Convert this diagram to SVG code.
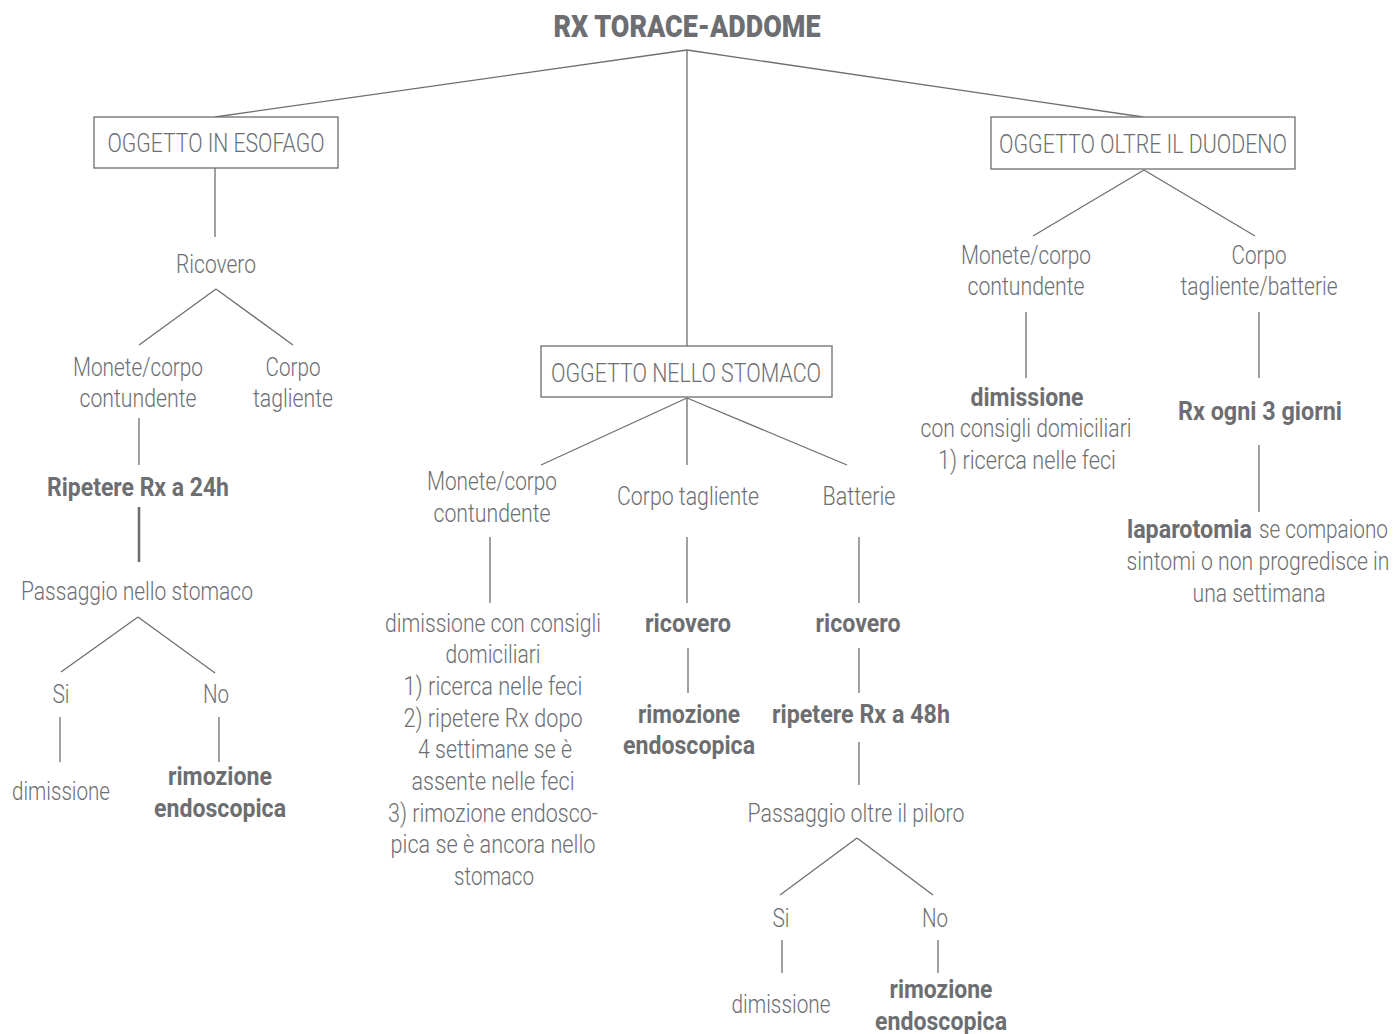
<svg xmlns="http://www.w3.org/2000/svg" width="1395" height="1034" viewBox="0 0 1395 1034">
<style>
text{font-family:Roboto,"Liberation Sans",sans-serif;font-size:25px;font-weight:300;fill:#6d6e71;text-anchor:middle}
.b{font-weight:700}
.t{font-size:32px;font-weight:900}
.s{text-anchor:start}
.box{fill:#fff;stroke:#6d6e71;stroke-width:1.3}
#connectors line{stroke:#6d6e71;stroke-width:1.3;fill:none}
#connectors line.thick{stroke-width:2.6}
</style>
<rect width="1395" height="1034" fill="#fff"/>
<g id="connectors">
<line x1="687" y1="50" x2="215" y2="117"/>
<line x1="687" y1="50" x2="1143" y2="117"/>
<line x1="687" y1="50" x2="687" y2="346"/>
<line x1="215" y1="168" x2="215" y2="237"/>
<line x1="216" y1="289" x2="139" y2="345"/>
<line x1="216" y1="289" x2="293" y2="345"/>
<line x1="139" y1="418" x2="139" y2="465"/>
<line class="thick" x1="139" y1="507" x2="139" y2="562"/>
<line x1="138" y1="617" x2="61" y2="672"/>
<line x1="138" y1="617" x2="215" y2="673"/>
<line x1="60" y1="717" x2="60" y2="762"/>
<line x1="219" y1="717" x2="219" y2="762"/>
<line x1="687" y1="398" x2="541" y2="465"/>
<line x1="687" y1="398" x2="687" y2="465"/>
<line x1="687" y1="398" x2="847" y2="465"/>
<line x1="490" y1="537" x2="490" y2="603"/>
<line x1="687" y1="537" x2="687" y2="603"/>
<line x1="859" y1="537" x2="859" y2="603"/>
<line x1="688" y1="648" x2="688" y2="693"/>
<line x1="859" y1="648" x2="859" y2="693"/>
<line x1="859" y1="742" x2="859" y2="785"/>
<line x1="857" y1="838" x2="780" y2="895"/>
<line x1="857" y1="838" x2="933" y2="895"/>
<line x1="782" y1="940" x2="782" y2="973"/>
<line x1="938" y1="940" x2="938" y2="973"/>
<line x1="1144" y1="170" x2="1033" y2="236"/>
<line x1="1144" y1="170" x2="1255" y2="236"/>
<line x1="1026" y1="312" x2="1026" y2="378"/>
<line x1="1259" y1="312" x2="1259" y2="378"/>
<line x1="1259" y1="445" x2="1259" y2="512"/>
</g>
<g id="title"><text class="t" x="687" y="37" textLength="267" lengthAdjust="spacingAndGlyphs">RX TORACE-ADDOME</text></g>
<g id="esofago"><rect class="box" x="94" y="117" width="244" height="51"/><text x="216" y="152" textLength="217" lengthAdjust="spacingAndGlyphs">OGGETTO IN ESOFAGO</text></g>
<g id="esofago-ricovero"><text x="216" y="273" textLength="80" lengthAdjust="spacingAndGlyphs">Ricovero</text></g>
<g id="esofago-monete"><text x="138" y="376" textLength="130" lengthAdjust="spacingAndGlyphs">Monete/corpo</text><text x="138" y="407" textLength="117" lengthAdjust="spacingAndGlyphs">contundente</text></g>
<g id="esofago-tagliente"><text x="293" y="376" textLength="55" lengthAdjust="spacingAndGlyphs">Corpo</text><text x="293" y="407" textLength="80" lengthAdjust="spacingAndGlyphs">tagliente</text></g>
<g id="esofago-rx24"><text class="b" x="138" y="496" textLength="182" lengthAdjust="spacingAndGlyphs">Ripetere Rx a 24h</text></g>
<g id="esofago-passaggio"><text x="137" y="600" textLength="232" lengthAdjust="spacingAndGlyphs">Passaggio nello stomaco</text></g>
<g id="esofago-si"><text x="61" y="703" textLength="17" lengthAdjust="spacingAndGlyphs">Si</text></g>
<g id="esofago-no"><text x="216" y="703" textLength="26" lengthAdjust="spacingAndGlyphs">No</text></g>
<g id="esofago-dimissione"><text x="61" y="800" textLength="98" lengthAdjust="spacingAndGlyphs">dimissione</text></g>
<g id="esofago-rimozione"><text class="b" x="220" y="785" textLength="104" lengthAdjust="spacingAndGlyphs">rimozione</text><text class="b" x="220" y="817" textLength="132" lengthAdjust="spacingAndGlyphs">endoscopica</text></g>
<g id="stomaco"><rect class="box" x="541" y="346" width="291" height="51"/><text x="686" y="382" textLength="270" lengthAdjust="spacingAndGlyphs">OGGETTO NELLO STOMACO</text></g>
<g id="stomaco-monete"><text x="492" y="490" textLength="130" lengthAdjust="spacingAndGlyphs">Monete/corpo</text><text x="492" y="522" textLength="117" lengthAdjust="spacingAndGlyphs">contundente</text></g>
<g id="stomaco-tagliente"><text x="688" y="505" textLength="142" lengthAdjust="spacingAndGlyphs">Corpo tagliente</text></g>
<g id="stomaco-batterie"><text x="859" y="505" textLength="73" lengthAdjust="spacingAndGlyphs">Batterie</text></g>
<g id="stomaco-dimissione">
<text x="493" y="632" textLength="216" lengthAdjust="spacingAndGlyphs">dimissione con consigli</text>
<text x="493" y="663" textLength="95" lengthAdjust="spacingAndGlyphs">domiciliari</text>
<text x="493" y="695" textLength="179" lengthAdjust="spacingAndGlyphs">1) ricerca nelle feci</text>
<text x="493" y="727" textLength="179" lengthAdjust="spacingAndGlyphs">2) ripetere Rx dopo</text>
<text x="495" y="758" textLength="154" lengthAdjust="spacingAndGlyphs">4 settimane se è</text>
<text x="493" y="790" textLength="163" lengthAdjust="spacingAndGlyphs">assente nelle feci</text>
<text x="493" y="822" textLength="210" lengthAdjust="spacingAndGlyphs">3) rimozione endosco-</text>
<text x="493" y="853" textLength="205" lengthAdjust="spacingAndGlyphs">pica se è ancora nello</text>
<text x="494" y="885" textLength="80" lengthAdjust="spacingAndGlyphs">stomaco</text>
</g>
<g id="stomaco-tagliente-ricovero"><text class="b" x="688" y="632" textLength="86" lengthAdjust="spacingAndGlyphs">ricovero</text></g>
<g id="stomaco-tagliente-rimozione"><text class="b" x="689" y="723" textLength="102" lengthAdjust="spacingAndGlyphs">rimozione</text><text class="b" x="689" y="754" textLength="132" lengthAdjust="spacingAndGlyphs">endoscopica</text></g>
<g id="stomaco-batterie-ricovero"><text class="b" x="858" y="632" textLength="85" lengthAdjust="spacingAndGlyphs">ricovero</text></g>
<g id="stomaco-rx48"><text class="b" x="861" y="723" textLength="178" lengthAdjust="spacingAndGlyphs">ripetere Rx a 48h</text></g>
<g id="stomaco-passaggio"><text x="856" y="822" textLength="217" lengthAdjust="spacingAndGlyphs">Passaggio oltre il piloro</text></g>
<g id="stomaco-si"><text x="781" y="927" textLength="17" lengthAdjust="spacingAndGlyphs">Si</text></g>
<g id="stomaco-no"><text x="935" y="927" textLength="26" lengthAdjust="spacingAndGlyphs">No</text></g>
<g id="stomaco-dimissione2"><text x="781" y="1013" textLength="99" lengthAdjust="spacingAndGlyphs">dimissione</text></g>
<g id="stomaco-rimozione2"><text class="b" x="941" y="998" textLength="103" lengthAdjust="spacingAndGlyphs">rimozione</text><text class="b" x="941" y="1030" textLength="132" lengthAdjust="spacingAndGlyphs">endoscopica</text></g>
<g id="duodeno"><rect class="box" x="991" y="117" width="304" height="52"/><text x="1143" y="153" textLength="288" lengthAdjust="spacingAndGlyphs">OGGETTO OLTRE IL DUODENO</text></g>
<g id="duodeno-monete"><text x="1026" y="264" textLength="130" lengthAdjust="spacingAndGlyphs">Monete/corpo</text><text x="1026" y="295" textLength="117" lengthAdjust="spacingAndGlyphs">contundente</text></g>
<g id="duodeno-tagliente"><text x="1259" y="264" textLength="55" lengthAdjust="spacingAndGlyphs">Corpo</text><text x="1259" y="295" textLength="157" lengthAdjust="spacingAndGlyphs">tagliente/batterie</text></g>
<g id="duodeno-dimissione"><text class="b" x="1027" y="406" textLength="113" lengthAdjust="spacingAndGlyphs">dimissione</text><text x="1026" y="437" textLength="211" lengthAdjust="spacingAndGlyphs">con consigli domiciliari</text><text x="1027" y="469" textLength="178" lengthAdjust="spacingAndGlyphs">1) ricerca nelle feci</text></g>
<g id="duodeno-rx3"><text class="b" x="1260" y="420" textLength="164" lengthAdjust="spacingAndGlyphs">Rx ogni 3 giorni</text></g>
<g id="duodeno-laparotomia"><text class="b s" x="1127" y="538" textLength="125" lengthAdjust="spacingAndGlyphs">laparotomia</text><text class="s" x="1259" y="538" textLength="129" lengthAdjust="spacingAndGlyphs">se compaiono</text><text x="1258" y="570" textLength="263" lengthAdjust="spacingAndGlyphs">sintomi o non progredisce in</text><text x="1259" y="602" textLength="133" lengthAdjust="spacingAndGlyphs">una settimana</text></g>
</svg>
